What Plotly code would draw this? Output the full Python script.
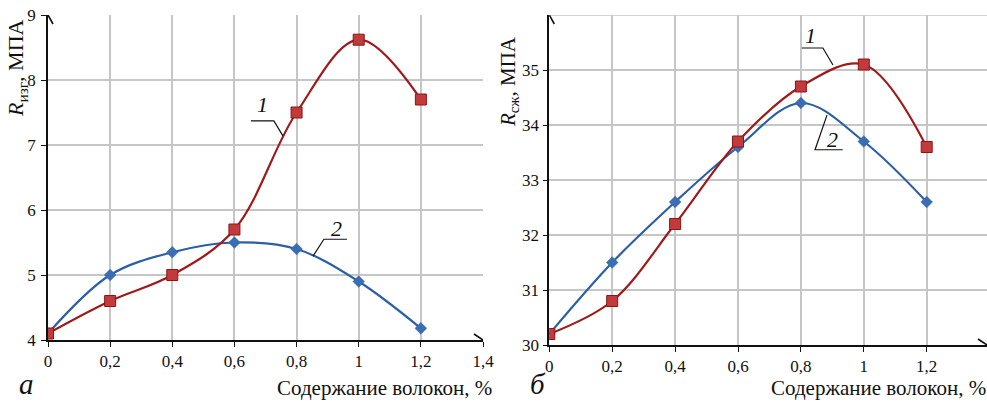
import plotly.graph_objects as go

# ---- data ----
x_vals = [0, 0.2, 0.4, 0.6, 0.8, 1.0, 1.2]
bend_1 = [4.1, 4.6, 5.0, 5.7, 7.5, 8.62, 7.7]
bend_2 = [4.1, 5.0, 5.35, 5.5, 5.4, 4.9, 4.18]
comp_1 = [30.2, 30.8, 32.2, 33.7, 34.7, 35.1, 33.6]
comp_2 = [30.2, 31.5, 32.6, 33.6, 34.4, 33.7, 32.6]

left_xticks = [0, 0.2, 0.4, 0.6, 0.8, 1.0, 1.2, 1.4]
left_xtext = ["0", "0,2", "0,4", "0,6", "0,8", "1", "1,2", "1,4"]
right_xticks = [0, 0.2, 0.4, 0.6, 0.8, 1.0, 1.2]
right_xtext = ["0", "0,2", "0,4", "0,6", "0,8", "1", "1,2"]
left_yticks = [4, 5, 6, 7, 8, 9]
right_yticks = [30, 31, 32, 33, 34, 35]
right_ytop = 36

RED_LINE = "#9e1b1b"
RED_FILL = "#c23a3c"
RED_EDGE = "#8a1616"
BLUE_LINE = "#2b5fa6"
BLUE_FILL = "#3b6db4"
GRID = "#c6c6c6"
FONT = "Liberation Serif, Times New Roman, serif"

W, H = 987, 403
RX_MAX = 1.4 * (987 - 549.3) / (989.6 - 549.3)

def px_x(p):
    return p / W

def px_y(p):
    return 1 - p / H

fig = go.Figure()

def add_series(x, y, xa, ya, kind):
    if kind == 1:
        fig.add_trace(go.Scatter(
            x=x, y=y, xaxis=xa, yaxis=ya, mode="lines+markers",
            line=dict(color=RED_LINE, width=2.2, shape="spline", smoothing=1.0),
            marker=dict(symbol="square", size=11, color=RED_FILL,
                        line=dict(color=RED_EDGE, width=1)),
            showlegend=False, hoverinfo="x+y"))
    else:
        fig.add_trace(go.Scatter(
            x=x, y=y, xaxis=xa, yaxis=ya, mode="lines+markers",
            line=dict(color=BLUE_LINE, width=2.2, shape="spline", smoothing=1.0),
            marker=dict(symbol="diamond", size=9, color=BLUE_FILL,
                        line=dict(color=BLUE_LINE, width=0.5)),
            showlegend=False, hoverinfo="x+y"))

# blue drawn first so red is on top
add_series(x_vals, bend_2, "x", "y", 2)
add_series(x_vals, bend_1, "x", "y", 1)
add_series(x_vals, comp_2, "x2", "y2", 2)
add_series(x_vals, comp_1, "x2", "y2", 1)

tickfont = dict(family=FONT, size=17, color="#111")
axis_common = dict(
    showgrid=True, gridcolor=GRID, gridwidth=1.6,
    showline=True, linecolor="#111", linewidth=1.6,
    ticks="outside", ticklen=5, tickcolor="#111", tickwidth=1.3,
    tickfont=tickfont, zeroline=False, fixedrange=True, automargin=False,
)

fig.update_layout(
    xaxis=dict(domain=[px_x(48), px_x(483)], range=[0, 1.4],
               tickmode="array", tickvals=left_xticks, ticktext=left_xtext,
               anchor="y", **axis_common),
    yaxis=dict(domain=[px_y(340), px_y(15)], range=[4, 9],
               tickmode="array", tickvals=left_yticks,
               anchor="x", ticklabelstandoff=2, **axis_common),
    xaxis2=dict(domain=[px_x(549.3), 1.0], range=[0, RX_MAX],
                tickmode="array", tickvals=right_xticks, ticktext=right_xtext,
                anchor="y2", **axis_common),
    yaxis2=dict(domain=[px_y(345), px_y(15)], range=[30, right_ytop],
                tickmode="array", tickvals=right_yticks,
                anchor="x2", **axis_common),
)

# top gridline of right panel (unlabelled)
fig.add_shape(type="line", xref="x2 domain", yref="y2", x0=0, x1=1,
              y0=right_ytop, y1=right_ytop, line=dict(color=GRID, width=1.6), layer="below")

# axis arrows (pixel-sized paths anchored at axis ends)
def arrow_x(xref, yref, xend, y0):
    fig.add_shape(type="path", xref=xref, yref=yref, xsizemode="pixel", ysizemode="pixel",
                  xanchor=xend, yanchor=y0, path="M -9 -6 L 0 0 L -9 6",
                  line=dict(color="#111", width=1.6))

def arrow_y(xref, yref, x0, yend):
    fig.add_shape(type="path", xref=xref, yref=yref, xsizemode="pixel", ysizemode="pixel",
                  xanchor=x0, yanchor=yend, path="M -5 -9 L 0 0 L 5 -9",
                  line=dict(color="#111", width=1.6))

arrow_x("x", "y", 1.4, 4)
arrow_y("x", "y", 0, 9)
arrow_x("x2", "y2", RX_MAX, 30)
arrow_y("x2", "y2", 0, right_ytop)

# leader lines for curve labels
def leader(xref, yref, pts):
    path = "M " + " L ".join(f"{a} {b}" for a, b in pts)
    fig.add_shape(type="path", xref=xref, yref=yref, path=path,
                  line=dict(color="#111", width=1.2))

leader("x", "y", [(0.653, 7.37), (0.727, 7.37), (0.756, 7.14)])
leader("x", "y", [(0.962, 5.55), (0.888, 5.55), (0.853, 5.29)])
leader("x2", "y2", [(0.803, 35.4), (0.870, 35.4), (0.902, 35.09)])
leader("x2", "y2", [(0.933, 33.55), (0.845, 33.55), (0.883, 34.18)])

lab_font = dict(family=FONT, size=22, color="#111")
for xr, yr, xx, yy, t in [
    ("x", "y", 0.689, 7.62, "<i>1</i>"),
    ("x", "y", 0.930, 5.71, "<i>2</i>"),
    ("x2", "y2", 0.829, 35.62, "<i>1</i>"),
    ("x2", "y2", 0.901, 33.73, "<i>2</i>"),
]:
    fig.add_annotation(x=xx, y=yy, xref=xr, yref=yr, text=t, showarrow=False,
                       font=lab_font, xanchor="center", yanchor="middle")

# axis titles as annotations
title_font = dict(family=FONT, size=21, color="#111")
fig.add_annotation(x=px_x(494), y=px_y(402), xref="paper", yref="paper",
                   text="Содержание волокон, %", showarrow=False, font=title_font,
                   xanchor="right", yanchor="bottom")
fig.add_annotation(x=px_x(988), y=px_y(402), xref="paper", yref="paper",
                   text="Содержание волокон, %", showarrow=False, font=title_font,
                   xanchor="right", yanchor="bottom")
fig.add_annotation(x=px_x(17), y=px_y(68), xref="paper", yref="paper",
                   text="<i>R</i><sub>изг</sub>, МПА", showarrow=False,
                   font=dict(family=FONT, size=22, color="#111"),
                   textangle=-90, xanchor="center", yanchor="middle")
fig.add_annotation(x=px_x(509), y=px_y(81), xref="paper", yref="paper",
                   text="<i>R</i><sub>сж</sub>, МПА", showarrow=False, font=title_font,
                   textangle=-90, xanchor="center", yanchor="middle")

# panel letters
letter_font = dict(family=FONT, size=29, color="#111")
fig.add_annotation(x=px_x(26), y=px_y(402), xref="paper", yref="paper",
                   text="<i>а</i>", showarrow=False, font=letter_font,
                   xanchor="center", yanchor="bottom")
fig.add_annotation(x=px_x(538), y=px_y(402), xref="paper", yref="paper",
                   text="<i>б</i>", showarrow=False, font=letter_font,
                   xanchor="center", yanchor="bottom")

fig.update_layout(
    width=W, height=H, margin=dict(l=0, r=0, t=0, b=0),
    paper_bgcolor="white", plot_bgcolor="white",
    font=dict(family=FONT, color="#111"),
    showlegend=False,
)

fig.write_html("out.html", config={"displayModeBar": False},
               post_script="document.body.style.margin='0';document.body.style.padding='0';")
